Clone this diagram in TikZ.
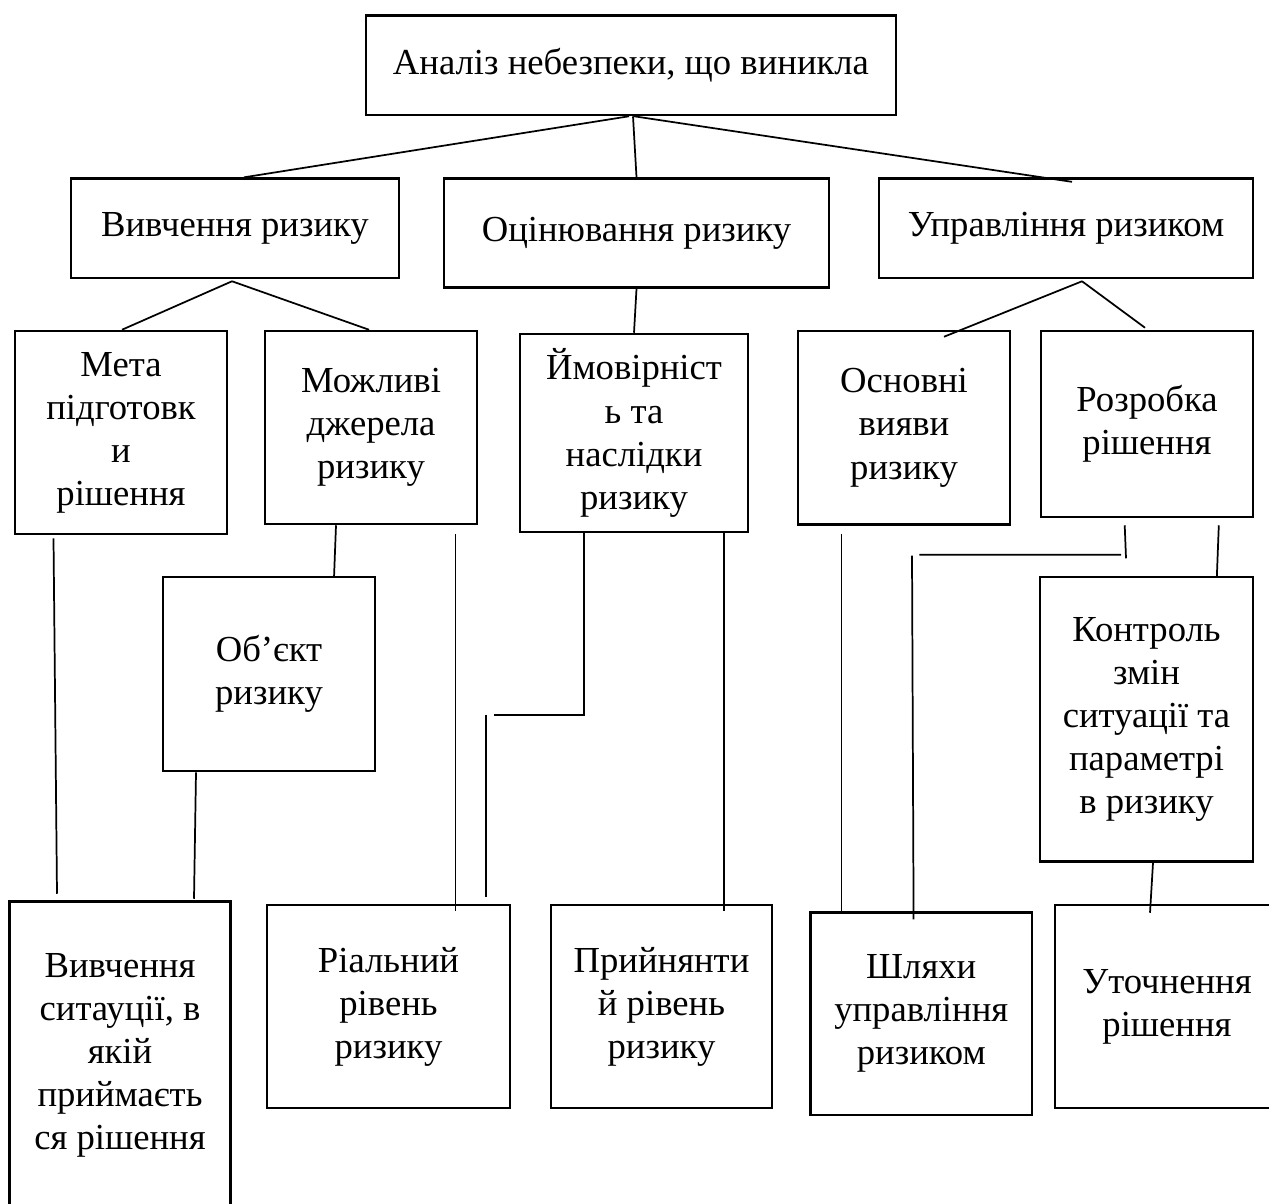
\documentclass[tikz,border=0pt]{standalone}
\usepackage{fontspec}
\setmainfont{Liberation Serif}
\usetikzlibrary{calc}

\tikzset{
  box/.style 2 args={draw, line width=1.9pt, inner sep=0pt, align=center,
    minimum width=#1*0.75pt, minimum height=#2*0.75pt,
    font=\fontsize{27.5}{32.3}\selectfont},
  link/.style={line width=1.3pt},
}

\begin{document}
\begin{tikzpicture}[x=0.75pt,y=0.75pt,yscale=-1,xscale=1]
\useasboundingbox (0,0) rectangle (1269,1203);

% Level 1
\node[box={530}{99.5}] (analiz) at (631,65.25) {Аналіз небезпеки, що виникла};

% Level 2
\node[box={328}{99.4}] (vyvch) at (235,228.3) {Вивчення ризику};
\node[box={385}{109}] (otsin) at (636.5,233) {Оцінювання ризику};
\node[box={374}{99.4}] (uprav) at (1066,228.3) {Управління ризиком};

% Level 3
\node[box={212}{203}] (meta) at (121,432.5) {Мета\\підготовк\\и\\рішення};
\node[box={212}{193}] (dzherela) at (371,427.5) {Можливі\\джерела\\ризику};
\node[box={228}{198}] (ymovir) at (634,433) {Ймовірніст\\ь та\\наслідки\\ризику};
\node[box={212}{193.5}] (vyiavy) at (904,427.75) {Основні\\вияви\\ризику};
\node[box={212}{186}] (rozrobka) at (1147,424) {Розробка\\рішення};

% Middle
\node[box={212}{194}] (obiekt) at (269,674) {Об’єкт\\ризику};
\node[box={213}{284.6}] (kontrol) at (1146.5,719.3) {Контроль\\змін\\ситуації та\\параметрі\\в ризику};

% Bottom
\node[box={221}{307.5}] (sytuatsiia) at (120,1055.25) {Вивчення\\ситауції, в\\якій\\приймаєть\\ся рішення};
\node[box={243}{203}] (realnyi) at (388.5,1006.5) {Ріальний\\рівень\\ризику};
\node[box={221}{203}] (pryiniatnyi) at (661.5,1006.5) {Прийнянти\\й рівень\\ризику};
\node[box={221.5}{202.6}] (shliakhy) at (921.25,1013.7) {Шляхи\\управління\\ризиком};
\node[box={224}{203}] (utochnennia) at (1167,1006.5) {Уточнення\\рішення};

% Connectors
\draw[link] ($(analiz.south)+(-2,0)$) -- ($(vyvch.north)+(9,0)$);
\draw[link] ($(analiz.south)+(2,0)$) -- (otsin.north);
\draw[link] ($(analiz.south)+(3,0)$) -- ($(uprav.north)+(6,4.5)$);

\draw[link] ($(vyvch.south)+(-3,2)$) -- ($(meta.north)+(1,0)$);
\draw[link] ($(vyvch.south)+(-3,2)$) -- ($(dzherela.north)+(-2,0)$);
\draw[link] (otsin.south) -- (ymovir.north);
\draw[link] ($(uprav.south)+(16,2)$) -- ($(vyiavy.north)+(40,7)$);
\draw[link] ($(uprav.south)+(16,2)$) -- ($(rozrobka.north)+(-2,-2)$);

\draw[link] ($(meta.south)+(-67.5,3)$) -- ($(sytuatsiia.north)+(-63,-6.5)$);
\draw[link] ($(dzherela.south)+(-35,0)$) -- ($(obiekt.north)+(65,2)$);
\draw[link] ($(obiekt.south)+(-73,0)$) -- ($(sytuatsiia.north)+(74,-1.5)$);
\draw[link] ($(dzherela.south)+(84.5,9)$) -- ($(realnyi.north)+(67,7)$);

\draw[link] ($(ymovir.south)+(-50,0)$) |- ($(ymovir.south)+(-140,182)$);
\draw[link] ($(realnyi.north)+(97.5,-189)$) -- ($(realnyi.north)+(97.5,-7)$);
\draw[link] ($(ymovir.south)+(90,0)$) -- ($(pryiniatnyi.north)+(62.5,7)$);

\draw[link] ($(vyiavy.south)+(-62.5,8.5)$) -- ($(shliakhy.north)+(-79.75,0)$);
\draw[link] ($(rozrobka.south)+(-22.3,7)$) -- ($(rozrobka.south)+(-21,40)$);
\draw[link] ($(rozrobka.south)+(-26,36.5)$) -- ($(shliakhy.north)+(-2,-356.4)$);
\draw[link] ($(shliakhy.north)+(-9.25,-355.4)$) -- ($(shliakhy.north)+(-7.65,8.3)$);

\draw[link] ($(rozrobka.south)+(71.8,7)$) -- ($(kontrol.north)+(70.3,1.8)$);
\draw[link] ($(kontrol.south)+(6.5,0)$) -- ($(utochnennia.north)+(-17,9)$);

\end{tikzpicture}
\end{document}
